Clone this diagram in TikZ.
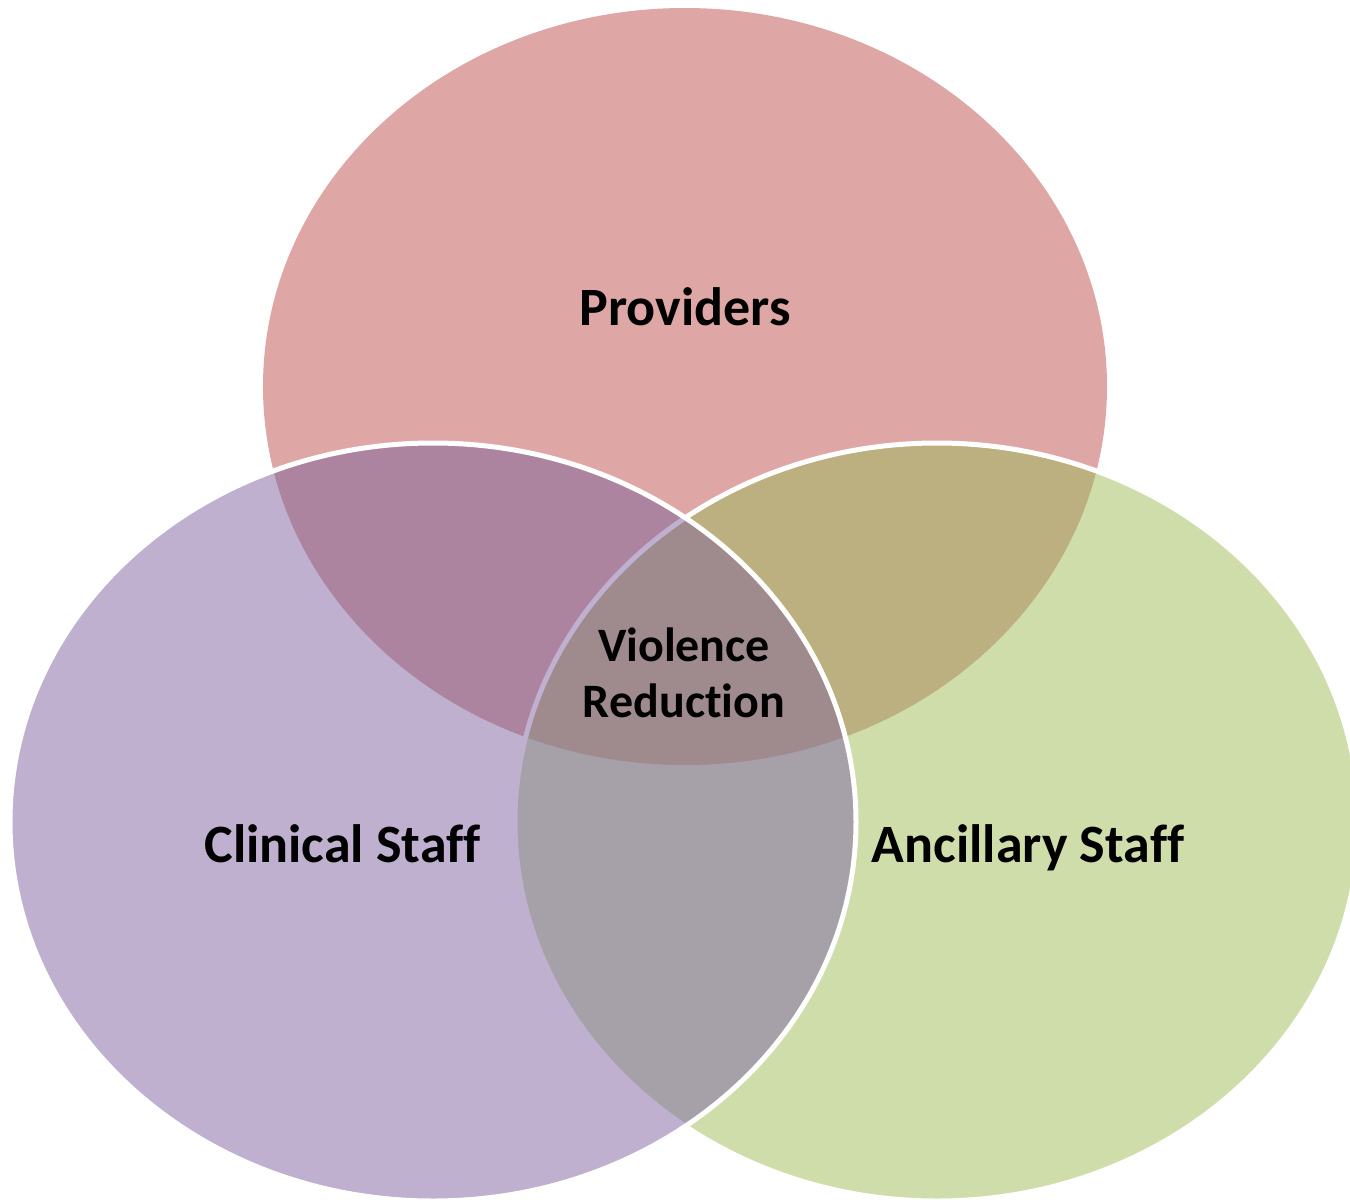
\documentclass[tikz,border=0pt]{standalone}
\usepackage{fontspec}
\setmainfont[Ligatures=CommonOff]{Carlito}

% Region colours of the three-set diagram
\definecolor{provC}{RGB}{223,166,166}
\definecolor{clinC}{RGB}{191,176,207}
\definecolor{anciC}{RGB}{207,221,170}
\definecolor{provClinC}{RGB}{173,132,159}
\definecolor{provAnciC}{RGB}{188,175,128}
\definecolor{clinAnciC}{RGB}{166,160,168}
\definecolor{coreC}{RGB}{159,138,142}

\begin{document}
\begin{tikzpicture}[x=1pt,y=-1pt,
  provSet/.style={insert path={(685,386.5) ellipse [x radius=422pt, y radius=378.5pt]}},
  clinSet/.style={insert path={(433,822) ellipse [x radius=423pt, y radius=379pt]}},
  anciSet/.style={insert path={(937,822) ellipse [x radius=422pt, y radius=379pt]}},
  rim/.style={line width=5pt},
  lbl/.style={font=\fontsize{54}{55}\selectfont\bfseries, anchor=base,
              inner sep=0pt, align=center, text=black},
  corelbl/.style={lbl, font=\fontsize{48}{56}\selectfont\bfseries}]
\useasboundingbox (0,0) rectangle (1350,1200);

% Providers (back)
\fill[provC, provSet];

% Ancillary staff with its overlap on providers
\fill[anciC, anciSet];
\begin{scope}
  \clip[provSet];
  \fill[provAnciC, anciSet];
\end{scope}
\draw[white, rim, anciSet];

% Clinical staff (front) with all its overlaps
\fill[clinC, clinSet];
\begin{scope}
  \clip[clinSet];
  \begin{scope}
    \clip[provSet];
    \fill[provClinC, provSet];
    \fill[coreC, anciSet];
  \end{scope}
  \begin{scope}
    \clip[anciSet];
    \fill[clinAnciC, anciSet];
    \clip[provSet];
    \fill[coreC, provSet];
  \end{scope}
  % rim of the ancillary set seen through the clinical set
  \draw[clinC, rim, anciSet];
\end{scope}
\draw[white, rim, clinSet];

% Labels
\node[lbl] (providers) at (685,325) {Providers};
\node[corelbl] (core) at (684,717) {Violence\\Reduction};
\node[lbl] (clinical) at (342.5,862) {Clinical Staff};
\node[lbl] (ancillary) at (1028,862) {Ancillary Staff};
\end{tikzpicture}
\end{document}
